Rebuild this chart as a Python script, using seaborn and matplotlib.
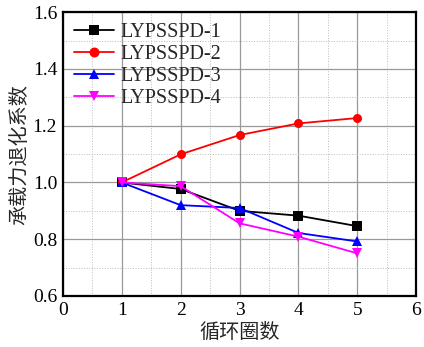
import numpy as np
import pandas as pd
import matplotlib
matplotlib.use("Agg")
import matplotlib.pyplot as plt
from matplotlib.ticker import MultipleLocator
import seaborn as sns

cycles = [1, 2, 3, 4, 5]
lyp1 = [1.000, 0.977, 0.900, 0.883, 0.846]
lyp2 = [1.000, 1.099, 1.167, 1.208, 1.227]
lyp3 = [1.000, 0.920, 0.910, 0.822, 0.792]
lyp4 = [1.000, 0.987, 0.856, 0.809, 0.750]
names = ["LYPSSPD-1", "LYPSSPD-2", "LYPSSPD-3", "LYPSSPD-4"]
colors = ["black", "red", "blue", "magenta"]
markers = ["s", "o", "^", "v"]

sns.set_style("white")
plt.rcParams["font.family"] = ["Liberation Serif", "Noto Sans CJK SC"]
plt.rcParams["mathtext.fontset"] = "stix"

frames = []
for name, vals in zip(names, [lyp1, lyp2, lyp3, lyp4]):
    frames.append(pd.DataFrame({"cycle": cycles, "coef": vals, "specimen": name}))
df = pd.concat(frames, ignore_index=True)

fig = plt.figure(figsize=(4.24, 3.47), dpi=100)
ax = fig.add_axes([0.148, 0.147, 0.834, 0.818])

sns.lineplot(data=df, x="cycle", y="coef", hue="specimen", style="specimen",
             palette=dict(zip(names, colors)), markers=dict(zip(names, markers)),
             dashes=False, markersize=6.5, markeredgewidth=0, linewidth=1.3,
             ax=ax, legend=True)

ax.set_xlim(0, 6)
ax.set_ylim(0.6, 1.6)
ax.xaxis.set_major_locator(MultipleLocator(1))
ax.xaxis.set_minor_locator(MultipleLocator(0.5))
ax.yaxis.set_major_locator(MultipleLocator(0.2))
ax.yaxis.set_minor_locator(MultipleLocator(0.1))
ax.yaxis.set_major_formatter(matplotlib.ticker.FormatStrFormatter("%.1f"))

ax.grid(which="major", color="#999999", linewidth=0.9, linestyle="-")
ax.grid(which="minor", color="#bbbbbb", linewidth=0.7, linestyle=":")
ax.set_axisbelow(True)

for s in ax.spines.values():
    s.set_linewidth(1.6)
    s.set_color("black")

ax.tick_params(which="both", direction="in", top=False, right=False,
               labelsize=14, colors="black")
ax.tick_params(which="major", length=4, width=1.2, pad=4)
ax.tick_params(which="minor", length=2.5, width=1.0)

ax.set_xlabel("循环圈数", fontsize=14.5, labelpad=4)
ax.set_ylabel("承载力退化系数", fontsize=14.5, labelpad=2)

leg = ax.legend(loc="upper left", frameon=False, fontsize=14.5,
                handlelength=2.0, handletextpad=0.3, labelspacing=0.14,
                borderaxespad=0.3, borderpad=0.25, markerscale=1.1)
leg.set_title(None)

fig.savefig("out.png", dpi=100)
